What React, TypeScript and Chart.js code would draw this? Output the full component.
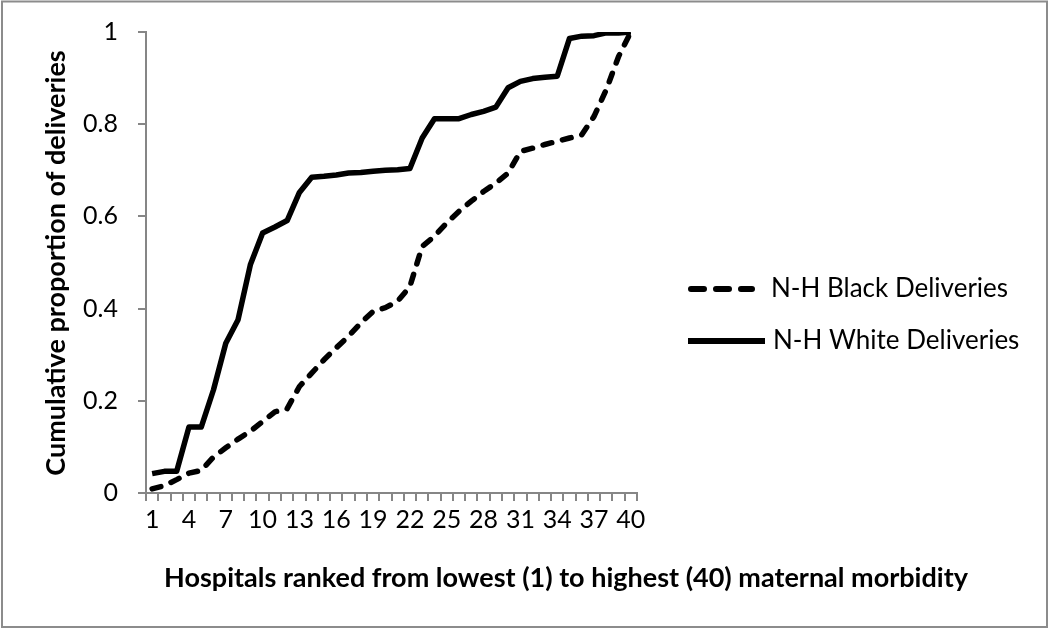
import React, { useEffect, useRef } from "react";
import { Chart, registerables } from "chart.js";

Chart.register(...registerables);

const hospitals: string[] = Array.from({ length: 40 }, (_, i) => String(i + 1));

const blackDeliveries: number[] = [
  0.009, 0.016, 0.029, 0.043, 0.049, 0.078, 0.098, 0.117, 0.134, 0.155,
  0.176, 0.183, 0.231, 0.260, 0.289, 0.315, 0.340, 0.369, 0.394, 0.402,
  0.416, 0.448, 0.535, 0.557, 0.586, 0.611, 0.633, 0.654, 0.672, 0.694,
  0.741, 0.748, 0.756, 0.763, 0.770, 0.777, 0.817, 0.875, 0.947, 1.0,
];

const whiteDeliveries: number[] = [
  0.042, 0.047, 0.047, 0.143, 0.143, 0.224, 0.325, 0.376, 0.495, 0.564,
  0.577, 0.591, 0.652, 0.685, 0.687, 0.690, 0.694, 0.695, 0.698, 0.700,
  0.701, 0.704, 0.770, 0.812, 0.812, 0.812, 0.821, 0.828, 0.837, 0.879,
  0.893, 0.899, 0.902, 0.904, 0.986, 0.991, 0.992, 0.998, 0.998, 1.0,
];

const yTickLabels: Record<string, string> = {
  "0": "0", "0.2": "0.2", "0.4": "0.4", "0.6": "0.6", "0.8": "0.8", "1": "1",
};

const seriesNames: string[] = ["N-H Black Deliveries", "N-H White Deliveries"];
const xTitle = "Hospitals ranked from lowest (1) to highest (40) maternal morbidity";
const yTitle = "Cumulative proportion of deliveries";

const FONT = "Lato, 'Open Sans', sans-serif";
const AXIS_GRAY = "#868686";

const decorPlugin = {
  id: "decor",
  beforeDraw(chart: any) {
    const ctx = chart.ctx;
    ctx.save();
    ctx.fillStyle = "#ffffff";
    ctx.fillRect(0, 0, chart.width, chart.height);
    ctx.restore();
  },
  afterDraw(chart: any) {
    const ctx = chart.ctx;
    ctx.save();
    // outer frame
    ctx.strokeStyle = "#8c8c8c";
    ctx.lineWidth = 2;
    ctx.strokeRect(2, 1.5, 1045, 625.5);

    // x axis title
    ctx.fillStyle = "#000";
    ctx.font = `bold 27px ${FONT}`;
    ctx.textAlign = "center";
    ctx.textBaseline = "middle";
    ctx.fillText(xTitle, 566, 578);

    // y axis title
    ctx.save();
    ctx.translate(56, 263);
    ctx.rotate(-Math.PI / 2);
    ctx.font = `bold 27px ${FONT}`;
    ctx.fillText(yTitle, 0, 0);
    ctx.restore();

    // legend
    const items = chart.data.datasets;
    const rows = [
      { y: 289, x0: 691, x1: 752, tx: 771, dash: [13, 12] },
      { y: 341, x0: 688, x1: 765, tx: 773, dash: [] as number[] },
    ];
    items.forEach((ds: any, i: number) => {
      const r = rows[i];
      ctx.save();
      ctx.strokeStyle = ds.borderColor;
      ctx.lineWidth = 6;
      ctx.lineCap = ds.borderCapStyle || "butt";
      ctx.setLineDash(r.dash);
      ctx.beginPath();
      ctx.moveTo(r.x0, r.y);
      ctx.lineTo(r.x1, r.y);
      ctx.stroke();
      ctx.restore();
      ctx.fillStyle = "#000";
      ctx.font = `26px ${FONT}`;
      ctx.textAlign = "left";
      ctx.textBaseline = "middle";
      ctx.fillText(ds.label, r.tx, r.y);
    });
    ctx.restore();
  },
};

export default function App() {
  const ref = useRef<HTMLCanvasElement | null>(null);

  useEffect(() => {
    if (!ref.current) return;
    const chart = new Chart(ref.current, {
      type: "line",
      data: {
        labels: hospitals,
        datasets: [
          {
            label: seriesNames[0],
            data: blackDeliveries,
            borderColor: "#000000",
            borderWidth: 5.5,
            borderDash: [9, 11],
            borderCapStyle: "round",
            borderJoinStyle: "round",
            pointRadius: 0,
            tension: 0,
            fill: false,
          },
          {
            label: seriesNames[1],
            data: whiteDeliveries,
            borderColor: "#000000",
            borderWidth: 5.5,
            borderCapStyle: "butt",
            borderJoinStyle: "round",
            pointRadius: 0,
            tension: 0,
            fill: false,
          },
        ],
      },
      options: {
        responsive: false,
        animation: false,
        layout: { padding: { left: 0, top: 32, right: 413, bottom: 0 } },
        plugins: {
          legend: { display: false },
          tooltip: { enabled: false },
          title: { display: false },
        },
        scales: {
          x: {
            type: "category",
            offset: true,
            afterFit: (s: any) => {
              s.height = 137;
            },
            grid: {
              offset: true,
              drawOnChartArea: false,
              drawTicks: true,
              tickLength: 8,
              color: AXIS_GRAY,
              lineWidth: 2,
            },
            border: { display: true, color: AXIS_GRAY, width: 2 },
            ticks: {
              autoSkip: false,
              maxRotation: 0,
              minRotation: 0,
              padding: 4,
              color: "#000",
              font: { family: FONT, size: 25 },
              callback: (_v: any, i: number) => (i % 3 === 0 ? hospitals[i] : ""),
            },
          },
          y: {
            min: 0,
            max: 1,
            afterFit: (s: any) => {
              s.width = 146;
              s.paddingTop = 10;
              s.paddingBottom = 10;
            },
            grid: {
              drawOnChartArea: false,
              drawTicks: true,
              tickLength: 8,
              color: AXIS_GRAY,
              lineWidth: 2,
            },
            border: { display: true, color: AXIS_GRAY, width: 2 },
            ticks: {
              stepSize: 0.2,
              padding: 20,
              color: "#000",
              font: { family: FONT, size: 25 },
              callback: (v: any) => {
                const k = String(Math.round(Number(v) * 10) / 10);
                return yTickLabels[k] ?? k;
              },
            },
          },
        },
      },
      plugins: [decorPlugin],
    });
    return () => chart.destroy();
  }, []);

  return (
    <div style={{ position: "fixed", left: 0, top: 0, width: 1050, height: 630, background: "#fff" }}>
      <canvas ref={ref} width={1050} height={630} />
    </div>
  );
}
